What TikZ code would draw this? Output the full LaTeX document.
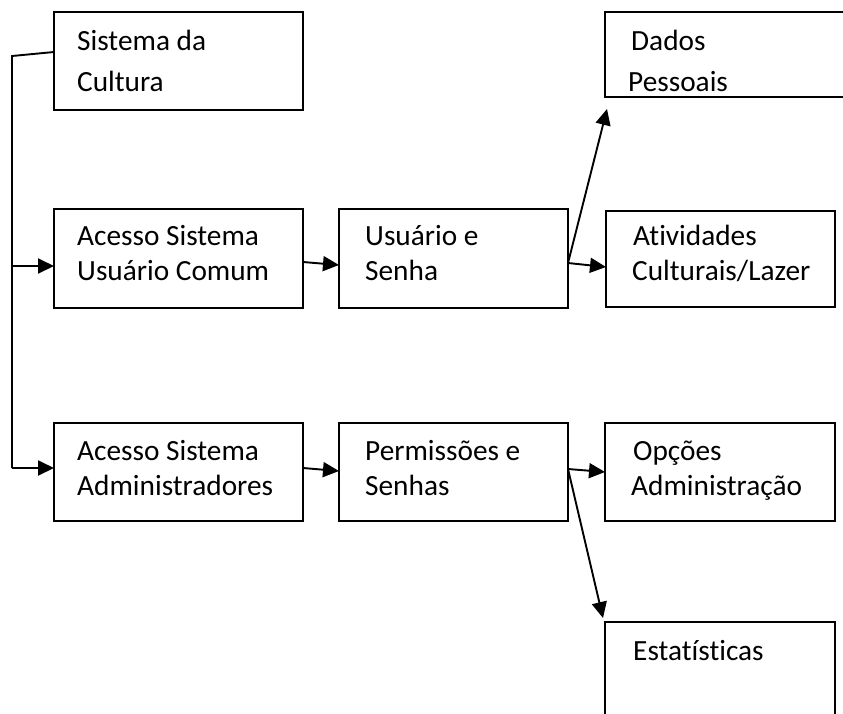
\documentclass[tikz,border=0pt]{standalone}
\usepackage{fontspec}
\setmainfont{Carlito}[Ligatures={NoCommon,NoRequired,NoContextual}]
\usetikzlibrary{arrows.meta}
\begin{document}
\begin{tikzpicture}[x=1pt,y=-1pt,
  box/.style={draw,line width=1.9pt,rectangle,anchor=north west,inner sep=0pt,outer sep=0pt},
  lbl/.style={anchor=base west,inner sep=0pt,font=\fontsize{29.3}{35}\selectfont},
  conn/.style={line width=1.9pt},
  arr/.style={line width=1.9pt,-{Triangle[length=16pt,width=15pt]}}]
\useasboundingbox (0,0) rectangle (843,713);
\clip (0,0) rectangle (843,713);
% boxes
\node[box,minimum width=249pt,minimum height=98pt] (sis) at (54,12) {};
\node[box,minimum width=249pt,minimum height=99pt] (acu) at (54,209) {};
\node[box,minimum width=249pt,minimum height=98pt] (adm) at (54,423) {};
\node[box,minimum width=229pt,minimum height=99pt] (usu) at (339,209) {};
\node[box,minimum width=229pt,minimum height=98pt] (per) at (339,423) {};
\node[box,minimum width=300pt,minimum height=85pt] (dad) at (605,12) {};
\node[box,minimum width=229pt,minimum height=96pt] (ati) at (606,211) {};
\node[box,minimum width=230pt,minimum height=98pt] (opc) at (605,423) {};
\node[box,minimum width=230pt,minimum height=140pt] (est) at (605,622) {};
% texts
\node[lbl] (sis1) at (77,50) {Sistema da};
\node[lbl] (sis2) at (77,91) {Cultura};
\node[lbl] (acu1) at (77,245) {Acesso Sistema};
\node[lbl] (acu2) at (77,280) {Usuário Comum};
\node[lbl] (adm1) at (77,460) {Acesso Sistema};
\node[lbl] (adm2) at (77,495) {Administradores};
\node[lbl] (usu1) at (365,245) {Usuário e};
\node[lbl] (usu2) at (365,280) {Senha};
\node[lbl] (per1) at (365,460) {Permissões e};
\node[lbl] (per2) at (365,495) {Senhas};
\node[lbl] (dad1) at (631,50) {Dados};
\node[lbl] (dad2) at (628,91) {Pessoais};
\node[lbl] (ati1) at (633,245) {Atividades};
\node[lbl] (ati2) at (632,280) {Culturais/Lazer};
\node[lbl] (opc1) at (633,460) {Opções};
\node[lbl] (opc2) at (631,495) {Administração};
\node[lbl] (est1) at (633,660) {Estatísticas};
% trunk
\coordinate (t0) at (12,56);
\coordinate (t1) at (12,266);
\coordinate (t2) at (12,468);
\draw[conn] ([yshift=9pt]sis.west) -- (t0) -- (t2);
\draw[arr] (t1) -- ([yshift=-7.5pt]acu.west);
\draw[arr] (t2) -- ([yshift=4pt]adm.west);
% level 2
\draw[arr] ([yshift=-3.5pt]acu.east) -- ([yshift=-6.5pt]usu.west);
\draw[arr] ([yshift=4pt]adm.east) -- ([yshift=1pt]per.west);
% level 3
\draw[arr] ([yshift=-4.5pt]usu.east) -- ([yshift=-8pt]ati.west);
\draw[arr] ([yshift=-4.5pt]usu.east) -- ([shift={(2pt,-12pt)}]dad.south west);
\draw[arr] ([yshift=3pt]per.east) -- ([yshift=0pt]opc.west);
\draw[arr] ([yshift=3pt]per.east) -- ([shift={(-2pt,4pt)}]est.north west);
\end{tikzpicture}
\end{document}
